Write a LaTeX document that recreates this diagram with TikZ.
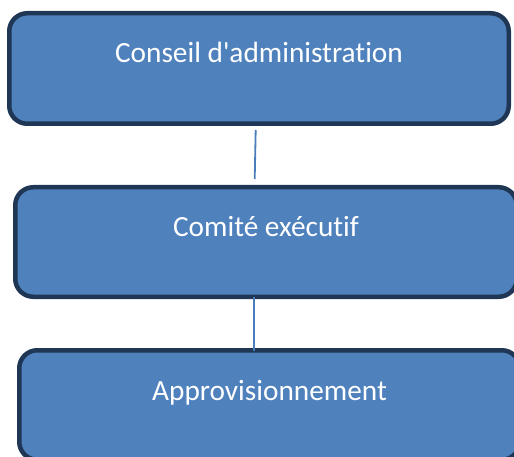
\documentclass[tikz,border=0pt]{standalone}
\usepackage{fontspec}
\setmainfont{Carlito}[Ligatures={NoCommon}]
\definecolor{boxfill}{HTML}{4F81BD}
\definecolor{boxline}{HTML}{1F3654}
\definecolor{connline}{HTML}{4A7EBB}
\begin{document}
\begin{tikzpicture}[x=1pt,y=1pt,
  orgbox/.style={draw=boxline, fill=boxfill, line width=4.5pt, rounded corners=18pt, inner sep=0pt},
  orgtext/.style={text=white, anchor=base, inner sep=0pt, font=\fontsize{29.3}{34}\selectfont},
  conn/.style={draw=connline, line width=1.8pt}]
\useasboundingbox (0,0) rectangle (514,-457);
\node[orgbox, minimum width=499.5pt, minimum height=110.5pt] (b1) at (259,-68.5) {};
\node[orgbox, minimum width=501.5pt, minimum height=109.5pt] (b2) at (266,-242) {};
\node[orgbox, minimum width=500.5pt, minimum height=109.5pt] (b3) at (269.5,-405) {};
\node[orgtext] (t1) at (259,-63) {Conseil d\textquotesingle administration};
\node[orgtext] (t2) at (266,-236.7) {Comité exécutif};
\node[orgtext] (t3) at (269.5,-400) {Approvisionnement};
\coordinate (c1a) at (255.7,-130);
\coordinate (c1b) at (254.7,-179);
\coordinate (c2a) at (254,-297);
\coordinate (c2b) at (254,-351);
\draw[conn] (c1a) -- (c1b);
\draw[conn] (c2a) -- (c2b);
\end{tikzpicture}
\end{document}
